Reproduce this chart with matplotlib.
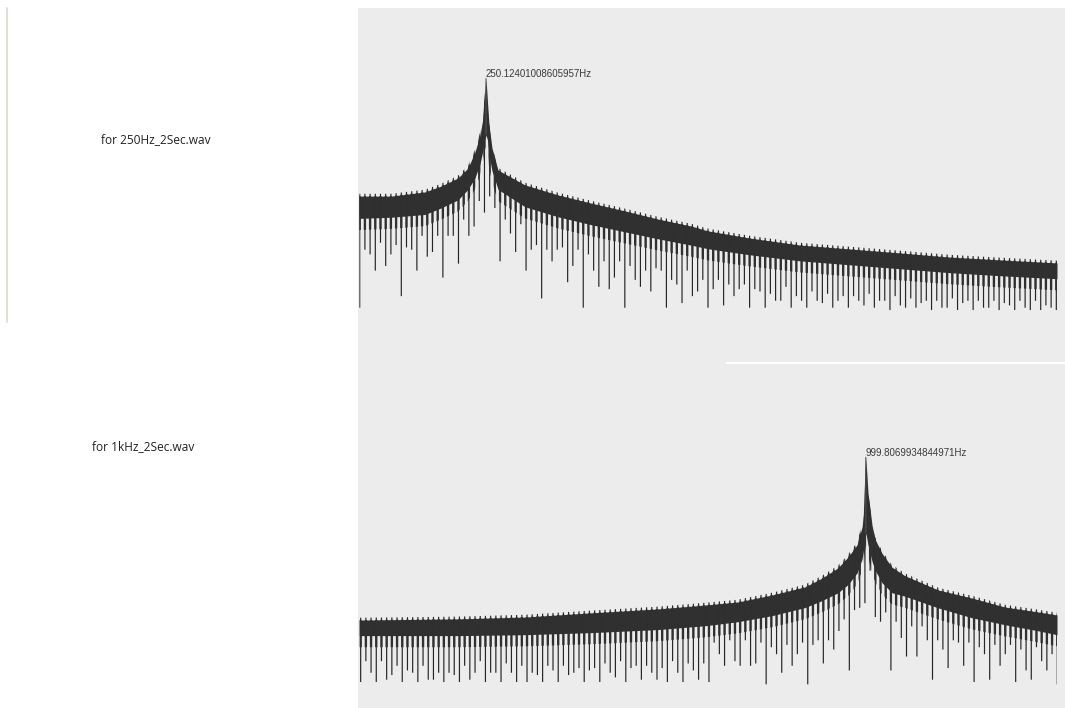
import numpy as np
import matplotlib
matplotlib.use("Agg")
import matplotlib.pyplot as plt
from matplotlib.patches import Polygon, Rectangle
from matplotlib.lines import Line2D

# ---------------- 250Hz_2Sec.wav ----------------
peak_250_hz = 250.12401008605957
peak_250_db = 0.0
# band of the magnitude spectrum: upper and lower edge (dB) at these frequencies (Hz)
env_250_hz = [0, 62.6, 129.7, 161.2, 194.8, 214.5, 228.3, 238.2, 244.1, 247.3,
              peak_250_hz, 253.0, 256.0, 261.9, 273.8, 327.1, 392.2, 457.4, 524.5, 589.6,
              654.7, 688.2, 771.1, 869.8, 968.4, 1067.1, 1165.8, 1264.5, 1377.0]
env_250_top = [-50.9, -50.9, -49.1, -46.6, -43.1, -38.8, -31.9, -24.6, -17.2, -9.5,
               peak_250_db, -10.3, -20.3, -30.2, -39.7, -46.1, -50.4, -53.9, -57.3, -60.8,
               -63.8, -65.9, -69.0, -72.0, -73.7, -75.4, -77.2, -78.4, -79.7]
env_250_low = [-60.5, -60.0, -58.8, -56.0, -52.5, -48.0, -43.0, -37.0, -31.0, -26.7,
               -24.6, -26.7, -33.2, -40.0, -48.0, -55.5, -59.8, -63.2, -66.3, -69.3,
               -72.0, -73.6, -76.2, -78.8, -80.5, -82.2, -83.9, -85.2, -86.5]
# depth (dB) of the notches hanging below the band, one per comb bin
notch_250_db = [-99, -74, -76, -83, -71, -81, -76, -72, -94, -73,
                -74, -83, -68, -77, -75, -68, -86, -68, -68, -80,
                -61, -68, -64, -53, -58, -51, -56, -79, -61, -67,
                -75, -63, -83, -74, -72, -95, -74, -79, -74, -73,
                -88, -81, -74, -99, -76, -83, -90, -79, -91, -86,
                -79, -99, -81, -87, -90, -83, -92, -82, -83, -99,
                -87, -89, -97, -83, -94, -92, -87, -99,
                -91, -87, -98, -89, -94, -91, -89, -99, -91, -92,
                -99, -93, -96, -96, -90, -99, -94, -96, -99, -92,
                -96, -97, -93, -99, -96, -94, -99, -94, -96, -98,
                -93, -99, -96, -96, -100, -94, -98, -99, -95, -99,
                -97, -96, -100, -96, -99, -99, -95, -100, -97, -96,
                -100, -96, -99, -99, -96, -100, -97, -98, -100, -96,
                -99, -100, -96, -100, -98, -99, -100]
notch_250_start_hz = 0.8

# ---------------- 1kHz_2Sec.wav ----------------
peak_1k_hz = 999.8069934844971
peak_1k_db = 0.0
env_1k_hz = [0, 194.8, 327.1, 457.4, 589.6, 684.3, 747.4, 814.5, 879.7, 913.2,
             944.8, 964.5, 982.3, 992.2, 996.7, peak_1k_hz, 1004.0, 1012.0, 1018.0, 1031.6,
             1051.3, 1077.0, 1142.0, 1209.0, 1274.4, 1339.5, 1377.0]
env_1k_top = [-70.3, -69.8, -69.0, -67.2, -65.5, -63.8, -62.5, -59.5, -56.0, -52.2,
              -47.8, -43.1, -37.9, -30.2, -21.6, peak_1k_db, -15.5, -29.5, -35.5, -41.5,
              -47.5, -51.2, -57.3, -60.8, -64.7, -66.8, -68.1]
env_1k_low = [-77.0, -77.0, -76.6, -75.7, -74.4, -72.7, -71.0, -68.4, -64.9, -61.9,
              -58.5, -55.0, -50.0, -44.0, -37.9, -32.8, -37.9, -45.0, -48.8, -54.2,
              -58.5, -60.0, -65.0, -69.3, -72.3, -74.9, -76.6]
notch_1k_db = [-97, -88, -93, -97, -88, -96, -94, -90, -97, -92,
               -93, -97, -90, -96, -96, -93, -97, -93, -94, -97,
               -90, -96, -93, -88, -97, -93, -93, -97, -89, -93,
               -97, -90, -97, -93, -94, -97, -90, -92, -97, -90,
               -94, -93, -91, -97, -92, -91, -97, -89, -93, -95,
               -88, -97, -91, -90, -96, -90, -93, -96, -91, -97,
               -88, -93, -97, -89, -92, -96, -89, -97,
               -80, -85, -90, -79, -88, -90, -79, -90, -89, -80,
               -98, -82, -85, -93, -81, -90, -85, -80, -98, -81,
               -79, -89, -79, -83, -75, -70, -92, -66, -65, -63,
               -49, -69, -71, -67, -92, -71, -78, -86, -73, -86,
               -73, -79, -96, -79, -83, -91, -79, -80, -90, -80,
               -97, -82, -85, -96, -81, -90, -85, -81, -97, -83,
               -92, -96, -82, -88, -92, -85, -98]
notch_1k_start_hz = 2.7

comb_step_hz = 10.26
tooth_db = 5.0   # how far the dense dark teeth reach below the solid band

# ---------------- layout ----------------
W, H = 1065, 708
BG = "#ececec"
INK = "#303030"

fig = plt.figure(figsize=(W / 100, H / 100), dpi=100)
fig.patch.set_facecolor("white")


def fx(px):
    return px / W


def fy(py):
    return 1 - py / H


# grey drawing surface behind both spectra
fig.patches.append(Rectangle((fx(358), 0), fx(1065) - fx(358), fy(8),
                             transform=fig.transFigure, facecolor=BG,
                             edgecolor="none", zorder=-2))
# white rule separating the two spectra on the right
fig.patches.append(Rectangle((fx(726), fy(364)), fx(1065) - fx(726), 2 / H,
                             transform=fig.transFigure, facecolor="white",
                             edgecolor="none", zorder=-1))
# thin frame line of the caption pane
fig.add_artist(Line2D([fx(7), fx(7)], [fy(8), fy(322)], color="#d8d4c8", lw=1.1))

XLIM = (-2.57, 1392.8)

ax1 = fig.add_axes([fx(358), fy(362), fx(707), 354 / H])
ax1.set_xlim(*XLIM)
ax1.set_ylim(-122.4, 30.2)

ax2 = fig.add_axes([fx(358), 0, fx(707), 344 / H])
ax2.set_xlim(*XLIM)
ax2.set_ylim(-108.2, 40.1)


def draw_spectrum(ax, env_hz, env_top, env_low, notch_db, start_hz, peak_hz, peak_db):
    ax.set_facecolor("none")
    ax.axis("off")
    ymin, ymax = ax.get_ylim()
    top = np.asarray(env_top, dtype=float)
    low = np.asarray(env_low, dtype=float) - tooth_db

    ax.fill_between(env_hz, env_low, env_top, color=INK, lw=0, zorder=2)

    notch_hz = start_hz + comb_step_hz * np.arange(len(notch_db))

    # thin tails of every notch, hanging from just above the band's top edge
    tails = ax.vlines(notch_hz, notch_db, ymax, colors="#252525", lw=0.85, zorder=3)
    tails.set_snap(False)
    tails.set_clip_path(Polygon(list(zip(env_hz, top + 1.0)) + [(env_hz[-1], ymin), (env_hz[0], ymin)],
                                closed=True, transform=ax.transData))

    # heavier teeth just under the band
    teeth = ax.vlines(notch_hz, notch_db, ymax, colors=INK, lw=1.7, zorder=3)
    teeth.set_snap(False)
    teeth.set_clip_path(Polygon(list(zip(env_hz, top)) + list(zip(env_hz[::-1], low[::-1])),
                                closed=True, transform=ax.transData))

    i = env_hz.index(peak_hz)
    peak_line = ax.vlines([peak_hz], [env_low[i]], [peak_db], colors="#555555", lw=0.7, zorder=4)
    peak_line.set_snap(False)
    ax.annotate(f"{peak_hz}Hz", (peak_hz, peak_db), xytext=(0, 1),
                textcoords="offset points", ha="left", va="baseline",
                fontsize=7, family="Liberation Sans", color="#3a3a3a")


draw_spectrum(ax1, env_250_hz, env_250_top, env_250_low, notch_250_db,
              notch_250_start_hz, peak_250_hz, peak_250_db)
draw_spectrum(ax2, env_1k_hz, env_1k_top, env_1k_low, notch_1k_db,
              notch_1k_start_hz, peak_1k_hz, peak_1k_db)

fig.text(fx(101), fy(140), "for 250Hz_2Sec.wav", ha="left", va="center",
         fontsize=8.6, family="Open Sans", color="#222222")
fig.text(fx(92), fy(447), "for 1kHz_2Sec.wav", ha="left", va="center",
         fontsize=8.6, family="Open Sans", color="#222222")

fig.savefig("out.png", dpi=100, facecolor="white")
